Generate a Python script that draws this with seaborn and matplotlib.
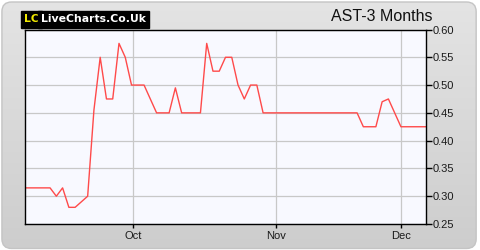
import numpy as np
import pandas as pd
import matplotlib
matplotlib.use("Agg")
import matplotlib.pyplot as plt
import seaborn as sns
from matplotlib.patches import FancyBboxPatch

# ---- data ----
prices = [0.315, 0.315, 0.315, 0.315, 0.315, 0.30, 0.315, 0.28, 0.28, 0.29,
          0.30, 0.455, 0.55, 0.475, 0.475, 0.575, 0.55, 0.50, 0.50, 0.50,
          0.475, 0.45, 0.45, 0.45, 0.495, 0.45, 0.45, 0.45, 0.45, 0.575,
          0.525, 0.525, 0.55, 0.55, 0.50, 0.475, 0.50, 0.50, 0.45, 0.45,
          0.45, 0.45, 0.45, 0.45, 0.45, 0.45, 0.45, 0.45, 0.45, 0.45,
          0.45, 0.45, 0.45, 0.45, 0.425, 0.425, 0.425, 0.47, 0.475, 0.45,
          0.425, 0.425, 0.425, 0.425, 0.425]
month_labels = ["Oct", "Nov", "Dec"]
month_pos = [17.2, 40, 60]
y_ticks = [0.25, 0.30, 0.35, 0.40, 0.45, 0.50, 0.55, 0.60]
title = "AST-3 Months"

df = pd.DataFrame({"day": np.arange(len(prices)), "price": prices})

sns.set_theme(style="white")
plt.rcParams['font.family'] = ['Liberation Sans', 'DejaVu Sans']

fig = plt.figure(figsize=(4.8, 2.5), dpi=100)
fig.patch.set_facecolor("white")

# background panel with gradient
bg = fig.add_axes([0, 0, 1, 1], zorder=-10)
bg.set_xlim(0, 1); bg.set_ylim(0, 1); bg.axis("off")
grad = np.linspace(0, 1, 256).reshape(-1, 1)
im = bg.imshow(grad, extent=[0, 1, 0, 1], aspect="auto", origin="lower",
               cmap=matplotlib.colors.LinearSegmentedColormap.from_list(
                   "g", ["#cdcdcd", "#e4e4e4"]), zorder=0)
panel = FancyBboxPatch((0.004, 0.006), 0.988, 0.986,
                       boxstyle="round,pad=0,rounding_size=0.02",
                       transform=bg.transAxes, facecolor="none",
                       edgecolor="#c4c4c4", linewidth=1.0, zorder=1,
                       mutation_aspect=480 / 250)
bg.add_patch(panel)
im.set_clip_path(panel)

# logo
fig.text(0.050, 0.922, "LC", color="#f0e800", fontsize=7.8, fontweight="bold",
         va="center", ha="left", family=["DejaVu Sans"],
         bbox=dict(boxstyle="square,pad=0.3", facecolor="black", edgecolor="black"))
fig.text(0.086, 0.922, "LiveCharts.Co.Uk", color="white", fontsize=7.8,
         fontweight="bold", va="center", ha="left", family=["DejaVu Sans"],
         bbox=dict(boxstyle="square,pad=0.3", facecolor="black", edgecolor="black"))
fig.text(0.902, 0.935, title, color="#111111", fontsize=11.5, ha="right", va="center")

ax = fig.add_axes([0.0521, 0.104, 0.8354, 0.778])
ax.set_facecolor("#f8f9ff")
sns.lineplot(data=df, x="day", y="price", ax=ax, color="#ff4a4a", linewidth=1.0)
ax.set_xlim(0, len(prices) - 1)
ax.set_ylim(y_ticks[0], y_ticks[-1])
ax.set_yticks(y_ticks)
ax.set_yticklabels([f"{v:.2f}" for v in y_ticks])
ax.set_xticks(month_pos)
ax.set_xticklabels(month_labels)
ax.yaxis.tick_right()
ax.set_xlabel(""); ax.set_ylabel("")
ax.grid(True, color="#c8c8c8", linewidth=0.9)
ax.set_axisbelow(True)
for s in ax.spines.values():
    s.set_color("black"); s.set_linewidth(1.0); s.set_visible(True)
ax.tick_params(axis="y", which="both", right=True, left=False, length=4,
               width=1, color="black", labelsize=8, labelcolor="#1a1a1a", pad=1)
ax.tick_params(axis="x", which="both", bottom=True, length=3, width=1,
               color="black", labelsize=8, labelcolor="#1a1a1a", pad=2)

fig.savefig("out.png", dpi=100, facecolor=fig.get_facecolor())
